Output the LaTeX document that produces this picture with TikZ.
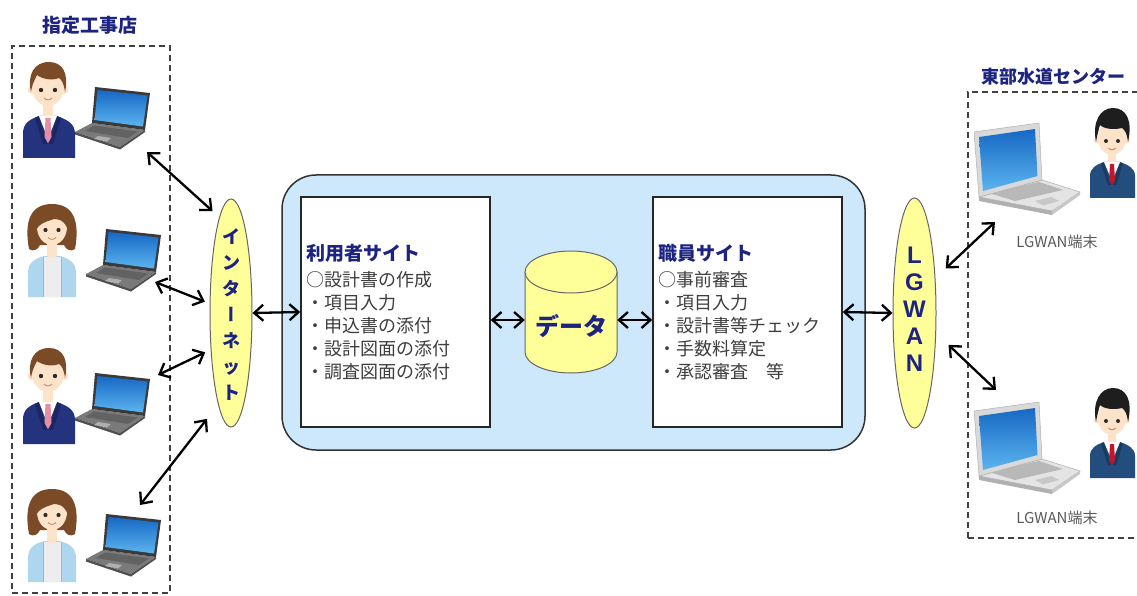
\documentclass[tikz,border=0pt]{standalone}
\usepackage{fontspec}
\usetikzlibrary{arrows.meta,shapes.geometric}
\newfontfamily\jp{Noto Sans CJK JP}
\newfontfamily\jpvert[RawFeature=+vert]{Noto Sans CJK JP}
\newfontfamily\lsans{Liberation Sans}

\definecolor{navy}{HTML}{1C2380}
\definecolor{bodygray}{HTML}{3E3E3E}
\definecolor{platformblue}{HTML}{CCE8FA}
\definecolor{lightyellow}{HTML}{FFFF99}
\definecolor{skin}{HTML}{FDE3CA}
\definecolor{hairbrown}{HTML}{7B4A26}
\definecolor{hairblack}{HTML}{1E1E1E}
\definecolor{suitnavy}{HTML}{24337E}
\definecolor{suitshade}{HTML}{1B2763}
\definecolor{tiepink}{HTML}{E58FA6}
\definecolor{cardigan}{HTML}{AFD6EF}
\definecolor{cardiganline}{HTML}{8DBCDD}
\definecolor{innertop}{HTML}{EDEDED}
\definecolor{staffsuit}{HTML}{224D7C}
\definecolor{staffshade}{HTML}{1A3B60}
\definecolor{tiered}{HTML}{C3162D}
\definecolor{eyecol}{HTML}{2B2B2B}
\definecolor{mouthcol}{HTML}{C9786A}
\definecolor{lapdark}{HTML}{3A3A3A}
\definecolor{lapbase}{HTML}{7A7A7A}
\definecolor{screendark}{HTML}{1668C4}
\definecolor{screenlight}{HTML}{5CB4EE}
\definecolor{silverlid}{HTML}{D9D9D9}
\definecolor{silverbase}{HTML}{E4E4E4}
\definecolor{silveredge}{HTML}{B0B0B0}

\tikzset{
  % office worker in a suit, origin at the centre of the face
  man/.pic={
    \fill[suitnavy] (-25,71) -- (-25,47) .. controls (-25,37) and (-20,33) .. (-9,29) -- (9,29) .. controls (20,33) and (27,37) .. (27,47) -- (27,71) -- cycle;
    \fill[suitshade] (-9,29) -- (-1,57) -- (-5,57) -- (-13,31) -- cycle;
    \fill[suitshade] (9,29) -- (1,57) -- (5,57) -- (13,31) -- cycle;
    \fill[skin] (-5,12) rectangle (5,31);
    \fill[white] (-9,29) -- (0,52) -- (9,29) -- cycle;
    \fill[tiepink] (-2.5,31) -- (2.5,31) -- (3.5,50) -- (0,56) -- (-3.5,50) -- cycle;
    \fill[skin] (-16.5,3) circle (4) (16.5,3) circle (4);
    \fill[skin] (0,0) ellipse [x radius=16, y radius=19];
    \fill[hairbrown] (-17,5) .. controls (-21,-12) and (-14,-25) .. (1,-25) .. controls (15,-25) and (21,-13) .. (17,5) .. controls (16,-3) and (14,-7) .. (11,-9) .. controls (4,-6) and (-6,-8) .. (-11,-12) .. controls (-14,-6) and (-16,-2) .. (-17,5) -- cycle;
    \fill[eyecol] (-7,3) circle (2.2) (7,3) circle (2.2);
    \draw[mouthcol, line width=0.8pt] (-4,11) .. controls (-2,13.5) and (2,13.5) .. (4,11);
  },
  % woman in a cardigan, origin at the centre of the face
  woman/.pic={
    \fill[hairbrown] (-23,22) .. controls (-27,0) and (-25,-23) .. (0,-23) .. controls (25,-23) and (27,0) .. (23,22) .. controls (19,25) and (14,23) .. (12,18) -- (-12,18) .. controls (-14,23) and (-19,25) .. (-23,22) -- cycle;
    \fill[cardigan] (-24,70) -- (-24,46) .. controls (-24,36) and (-18,32) .. (-8,29) -- (8,29) .. controls (18,32) and (24,36) .. (24,46) -- (24,70) -- cycle;
    \fill[innertop] (-9,30) -- (9,30) -- (9,70) -- (-9,70) -- cycle;
    \draw[cardiganline, line width=0.6pt] (-9,30) -- (-9,70) (9,30) -- (9,70);
    \fill[skin] (-5,12) -- (5,12) -- (5,28) .. controls (3,33) and (-3,33) .. (-5,28) -- cycle;
    \fill[skin] (0,0) ellipse [x radius=15, y radius=18];
    \fill[hairbrown] (-16,3) .. controls (-17,-15) and (-8,-21) .. (0,-21) .. controls (9,-21) and (17,-15) .. (16,3) .. controls (13,-6) and (6,-10) .. (-1,-7) .. controls (-7,-5) and (-13,-3) .. (-16,3) -- cycle;
    \fill[eyecol] (-6.5,3) circle (2.1) (6.5,3) circle (2.1);
    \draw[mouthcol, line width=0.8pt] (-4,10.5) .. controls (-2,13) and (2,13) .. (4,10.5);
  },
  % staff member with dark hair and red tie, origin at the centre of the face
  staff/.pic={
    \fill[staffsuit] (-22,60) -- (-22,38) .. controls (-22,30) and (-16,27) .. (-8,24) -- (8,24) .. controls (16,27) and (23,30) .. (23,38) -- (23,60) -- cycle;
    \fill[staffshade] (-8,24) -- (-1,47) -- (-4,47) -- (-11,26) -- cycle;
    \fill[staffshade] (8,24) -- (1,47) -- (4,47) -- (11,26) -- cycle;
    \fill[skin] (-4,10) rectangle (4,26);
    \fill[white] (-8,24) -- (0,43) -- (8,24) -- cycle;
    \fill[tiered] (-2,26) -- (2,26) -- (3,42) -- (0,47) -- (-3,42) -- cycle;
    \fill[skin] (-14.5,2) circle (3.5) (14.5,2) circle (3.5);
    \fill[skin] (0,0) ellipse [x radius=14, y radius=17];
    \fill[hairblack] (-16,4) .. controls (-20,-16) and (-12,-30) .. (1,-30) .. controls (14,-30) and (21,-18) .. (16,4) .. controls (15,-4) and (13,-8) .. (10,-10) .. controls (2,-8) and (-8,-9) .. (-12,-13) .. controls (-14,-6) and (-15,-2) .. (-16,4) -- cycle;
    \fill[eyecol] (-6,3) circle (2) (6,3) circle (2);
    \draw[mouthcol, line width=0.8pt] (-3.5,10) .. controls (-1.5,12.5) and (1.5,12.5) .. (3.5,10);
  },
  % dark notebook, origin at the lower left corner of the lid
  darklaptop/.pic={
    \fill[lapbase] (0,0) -- (53,7) -- (28,24) -- (-17,9) -- cycle;
    \fill[lapbase!65!black] (-17,9) -- (28,24) -- (28,26.5) -- (-17,11.5) -- cycle;
    \fill[lapbase!65!black] (28,24) -- (53,7) -- (53,9) -- (28,26.5) -- cycle;
    \fill[lapbase!80!black] (2,2.5) -- (46,8.5) -- (36,15) -- (-7,8) -- cycle;
    \fill[lapbase!60!white] (6,13) -- (19,15) -- (15,18.5) -- (2,16) -- cycle;
    \fill[lapdark] (0,0) -- (3,-36) -- (58,-30) -- (53,7) -- cycle;
    \shade[top color=screendark, bottom color=screenlight] (2.5,-3) -- (5.5,-33) -- (55.5,-27.5) -- (51,3.5) -- cycle;
  },
  % silver notebook, origin at the lower left corner of the lid
  silverlaptop/.pic={
    \filldraw[fill=silverbase, draw=silveredge, line width=0.5pt] (0,0) -- (63,-17) -- (101,-5) -- (73,14) -- cycle;
    \fill[silveredge] (0,0) -- (73,14) -- (73,18) -- (0,4) -- cycle;
    \fill[silveredge!70!white] (73,14) -- (101,-5) -- (101,-2) -- (73,18) -- cycle;
    \fill[silverlid!85!black] (10,-4) -- (60,-15) -- (84,-7) -- (36,4) -- cycle;
    \fill[silverlid!92!black] (56,4) -- (72,0) -- (80,4) -- (64,8.5) -- cycle;
    \filldraw[fill=silverlid, draw=silveredge, line width=0.5pt] (0,0) -- (-5,-65) -- (60,-74) -- (63,-17) -- cycle;
    \shade[top color=screendark, bottom color=screenlight] (4,-6) -- (0,-60) -- (56,-68) -- (58.5,-21) -- cycle;
  }
}

\begin{document}
\begin{tikzpicture}[x=1pt,y=-1pt,
  arr/.style={line width=2.3pt, <->, >={Straight Barb[length=9pt,width=16pt]}},
  dashbox/.style={draw=black!75, line width=1.3pt, dash pattern=on 6pt off 4pt, inner sep=0pt},
  platform/.style={draw=black!80, line width=1.5pt, fill=platformblue, rounded corners=34pt,
    minimum width=583pt, minimum height=275pt, inner sep=0pt},
  sitebox/.style={draw=black!85, line width=1.5pt, fill=white, minimum height=230pt,
    text width=179pt, inner xsep=5pt, inner ysep=0pt, align=left, text=bodygray,
    font=\jp\fontsize{18}{23}\selectfont},
  netell/.style={ellipse, draw=black!60, line width=1pt, fill=lightyellow, inner sep=0pt,
    minimum width=42pt, minimum height=228pt},
  vtext/.style={align=center, text=navy, inner sep=0pt,
    font=\jp\bfseries\fontsize{18}{26}\selectfont},
  ttl/.style={text=navy, inner sep=0pt, font=\jp\bfseries\fontsize{19}{22}\selectfont},
  termlabel/.style={text=black!65, inner sep=0pt, font=\jp\fontsize{15}{17}\selectfont}
]
\useasboundingbox (0,0) rectangle (1137,596);
\clip (0,0) rectangle (1137,596);
\fill[white] (0,0) rectangle (1137,596);

% group frames and their captions
\node[dashbox, minimum width=158pt, minimum height=547pt] (contractors) at (91,319.5) {};
\node[dashbox, minimum width=192pt, minimum height=446pt] (center) at (1064,315) {};
\node[ttl] (contractors-title) at (90,25) {指定工事店};
\node[ttl, font=\jp\bfseries\fontsize{18}{22}\selectfont] (center-title) at (1053,77) {東部水道センター};

% contractors with their notebooks
\pic at (48,87) {man};
\pic at (92,123) {darklaptop};
\pic at (52,227) {woman};
\pic at (103,265) {darklaptop};
\pic at (48,373) {man};
\pic at (92,409) {darklaptop};
\pic at (52,512) {woman};
\pic at (103,550) {darklaptop};

% LGWAN terminals
\pic at (1112,138) {staff};
\pic at (979,197) {silverlaptop};
\node[termlabel] (term1) at (1057,242) {LGWAN端末};
\pic at (1112,418) {staff};
\pic at (979,476) {silverlaptop};
\node[termlabel] (term2) at (1057,518) {LGWAN端末};

% system platform
\node[platform] (platform) at (573.5,312.5) {};
\node[sitebox] (userbox) at (395.5,312) {\textcolor{navy}{\bfseries\fontsize{19}{23}\selectfont 利用者サイト}\\[3pt]○設計書の作成\\・項目入力\\・申込書の添付\\・設計図面の添付\\・調査図面の添付};
\node[sitebox] (staffbox) at (747.5,312) {\textcolor{navy}{\bfseries\fontsize{19}{23}\selectfont 職員サイト}\\[3pt]○事前審査\\・項目入力\\・設計書等チェック\\・手数料算定\\・承認審査　等};

% database cylinder
\node[inner sep=0pt, minimum width=92pt, minimum height=122pt] (data) at (571,312) {};
\filldraw[fill=lightyellow, draw=black!60, line width=1pt]
  (525,272) -- (525,352) .. controls (525,363.6) and (545.6,373) .. (571,373)
  .. controls (596.4,373) and (617,363.6) .. (617,352) -- (617,272) -- cycle;
\filldraw[fill=lightyellow, draw=black!60, line width=1pt] (571,272) ellipse [x radius=46, y radius=21];
\node[text=navy, inner sep=0pt, font=\jp\bfseries\fontsize{24}{26}\selectfont] (data-label) at (571,326) {データ};

% networks
\node[netell] (inet) at (231,313) {};
\node[vtext] (inet-label) at (231,315) {イ\\ン\\タ\\{\jpvert ー}\\ネ\\ッ\\ト};
\node[netell, minimum width=43pt, minimum height=230pt] (lgwan) at (914.5,313) {};
\node[vtext, font=\lsans\bfseries\fontsize{24}{27}\selectfont] (lgwan-label) at (914.5,309) {L\\G\\W\\A\\N};

% connector ends at the notebooks
\coordinate (lapL1) at (147,152);
\coordinate (lapL2) at (155,282);
\coordinate (lapL3) at (158,375);
\coordinate (lapL4) at (140,505);
\coordinate (lapR1) at (995,222);
\coordinate (lapR2) at (996,390);

% connectors
\draw[arr, shorten >=9pt] (lapL1) -- (inet.97);
\draw[arr, shorten >=5pt] (lapL2) -- (inet.156);
\draw[arr, shorten >=6pt] (lapL3) -- (inet.241);
\draw[arr, shorten >=18pt] (lapL4) -- (inet.262);
\draw[arr] (inet.east) -- (userbox.west);
\draw[arr] ([yshift=-8pt]userbox.east) -- ([yshift=-8pt]data.west);
\draw[arr] ([yshift=-8pt]data.east) -- ([yshift=-8pt]staffbox.west);
\draw[arr] (staffbox.east) -- (lgwan.west);
\draw[arr, shorten >=14pt] (lapR1) -- (lgwan.59);
\draw[arr, shorten >=17pt] (lapR2) -- (lgwan.317);
\end{tikzpicture}
\end{document}
